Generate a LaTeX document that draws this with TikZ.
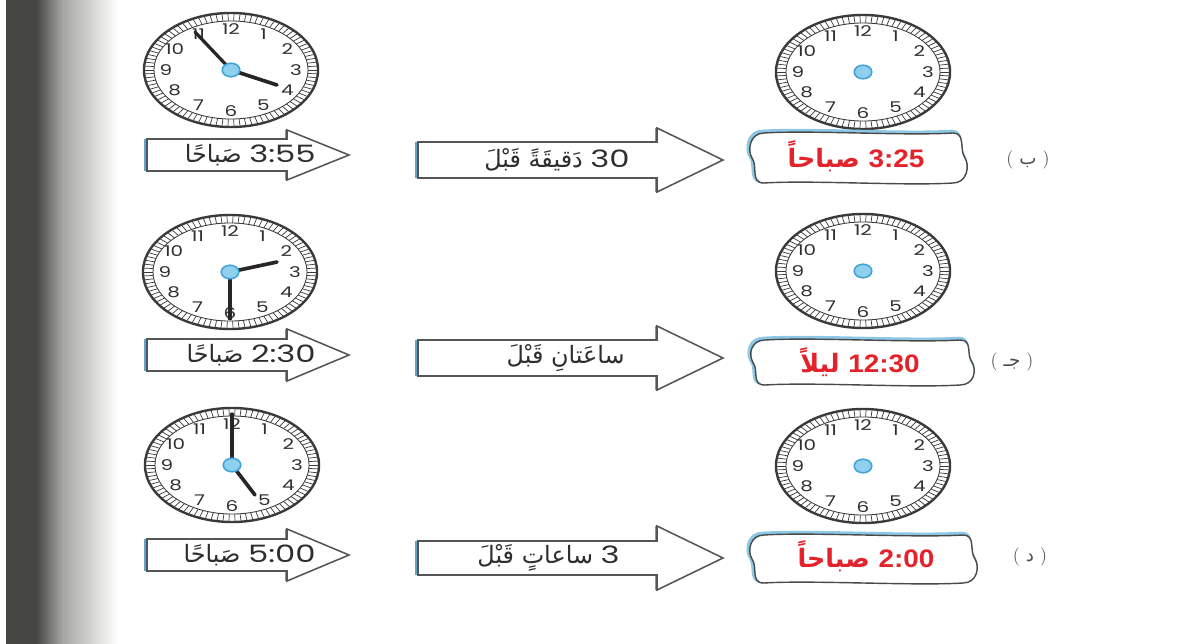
\documentclass[tikz,border=0pt]{standalone}
\usepackage{fontspec}
\usetikzlibrary{shapes.geometric,calc}
\TeXXeTstate=1
\newfontfamily\arb[Script=Arabic]{DejaVu Sans}
\newfontfamily\digf[FakeStretch=1.35]{Poppins}
\newfontfamily\redlat[FakeStretch=1.1]{Liberation Sans}
\definecolor{bgdark}{HTML}{464742}
\definecolor{bgmid}{HTML}{A4A5A0}
\definecolor{clockgray}{HTML}{3A3A3A}
\definecolor{arrline}{HTML}{555555}
\definecolor{accblue}{HTML}{5AA6CF}
\definecolor{boxblue}{HTML}{8CC8E6}
\definecolor{boxline}{HTML}{4A4A4A}
\definecolor{redtxt}{HTML}{E3222B}
\definecolor{hubfill}{HTML}{8FD0EE}
\definecolor{hubedge}{HTML}{3FA3D6}
\definecolor{inkgray}{HTML}{2E2E2E}
\tikzset{
 clockrim/.style={ellipse, draw=clockgray, line width=1.7pt, fill=white, minimum width=4.35cm, minimum height=2.85cm, inner sep=0pt},
 clockinner/.style={ellipse, draw=clockgray, line width=0.6pt, minimum width=3.85cm, minimum height=2.45cm, inner sep=0pt},
 clocktick/.style={draw=clockgray, line width=0.5pt},
 clocknum/.style={text=inkgray, font=\digf\fontsize{10.5}{11}\selectfont, inner sep=0pt},
 hub/.style={ellipse, fill=hubfill, draw=hubedge, line width=1.1pt, minimum width=0.44cm, minimum height=0.34cm, inner sep=0pt},
 minhand/.style={draw=black!85, line width=2.3pt, line cap=round},
 hourhand/.style={draw=black!85, line width=2.6pt, line cap=round},
 arrowfill/.style={fill=white},
 arrowedge/.style={draw=arrline, line width=1.1pt, line join=miter},
 arrowaccent/.style={draw=accblue, line width=2.4pt},
 blacktxt/.style={text=inkgray, font=\fontsize{17}{20}\selectfont, inner sep=0pt},
 redlabel/.style={text=redtxt, font=\bfseries\fontsize{18}{22}\selectfont, inner sep=0pt},
 rowlabel/.style={text=inkgray!85, font=\fontsize{13}{15}\selectfont, inner sep=0pt},
 boxglow/.style={draw=boxblue, line width=2.6pt},
 boxedge/.style={draw=boxline, line width=1pt, fill=white},
}
\newcommand\drawclock[3]{%
 \begin{scope}[shift={(#2,#3)}]
 \node[clockrim] (#1) at (0,0) {};
 \node[clockinner] (#1-in) at (0,0) {};
 \foreach \a in {0,4,...,356}{\draw[clocktick] ({86*cos(\a)},{56*sin(\a)}) -- ({77*cos(\a)},{49*sin(\a)});}
 \foreach \n in {1,...,12}{\node[clocknum] (#1-n\n) at ({65*sin(30*\n)},{-41*cos(30*\n)}) {\n};}
 \end{scope}}
\newcommand\drawhub[1]{\node[hub] (#1-hub) at (#1) {};}
\newcommand\bigarrow[6]{%
 \path[arrowfill] (#1,{#4-#5}) -- (#2,{#4-#5}) -- (#2,{#4-#6}) -- (#3,#4) -- (#2,{#4+#6}) -- (#2,{#4+#5}) -- (#1,{#4+#5}) -- cycle;
 \draw[arrowaccent] ({#1-1},{#4-#5}) -- ({#1-1},{#4+#5});
 \draw[arrowaccent, line width=1.6pt] ({#2-1},{#4-#6}) -- ({#2-1},{#4-#5}) ({#2-1},{#4+#5}) -- ({#2-1},{#4+#6});
 \draw[arrowedge] (#1,{#4-#5}) -- (#2,{#4-#5}) -- (#2,{#4-#6}) -- (#3,#4) -- (#2,{#4+#6}) -- (#2,{#4+#5}) -- (#1,{#4+#5}) -- cycle;}
\newcommand\ansbox[4]{%
 \begin{scope}[shift={(#1,#2)}]
 \draw[boxglow, shift={(-1.5,-1.5)}] (12,0) .. controls (60,-3) and ({#3-60},3) .. ({#3-12},0) .. controls ({#3+1},0) and ({#3-6},{#4/2-8}) .. (#3,{#4/2}) .. controls ({#3+5},{#4/2+8}) and ({#3+2},#4) .. ({#3-12},#4) .. controls ({#3-60},{#4+3}) and (60,{#4-3}) .. (12,#4) .. controls (-2,#4) and (6,{#4/2+8}) .. (0,{#4/2}) .. controls (-5,{#4/2-8}) and (-2,0) .. (12,0) -- cycle;
 \draw[boxedge] (12,0) .. controls (60,-3) and ({#3-60},3) .. ({#3-12},0) .. controls ({#3+1},0) and ({#3-6},{#4/2-8}) .. (#3,{#4/2}) .. controls ({#3+5},{#4/2+8}) and ({#3+2},#4) .. ({#3-12},#4) .. controls ({#3-60},{#4+3}) and (60,{#4-3}) .. (12,#4) .. controls (-2,#4) and (6,{#4/2+8}) .. (0,{#4/2}) .. controls (-5,{#4/2-8}) and (-2,0) .. (12,0) -- cycle;
 \end{scope}}
\begin{document}
\begin{tikzpicture}[x=0.025cm, y=-0.025cm]
\useasboundingbox (0,0) rectangle (1184,644);
\fill[white] (0,0) rectangle (1184,644);
\fill[bgdark] (6,0) rectangle (36,644);
\shade[left color=bgdark, right color=bgmid] (36,0) rectangle (62,644);
\shade[left color=bgmid, right color=white] (62,0) rectangle (118,644);

% clocks
\drawclock{L1}{231}{70}
\drawclock{L2}{230}{272}
\drawclock{L3}{232}{465}
\drawclock{R1}{863}{72}
\drawclock{R2}{863}{271}
\drawclock{R3}{863}{466}

% hands
\draw[minhand] (L1.center) -- ++(-36,-38);
\draw[hourhand] (L1.center) -- ++(46,15);
\draw[hourhand] (L2.center) -- ++(47,-10);
\draw[minhand] (L2.center) ++(0,6) -- ++(0,40);
\fill[black!85] ($(L2.center)+(0,46)$) circle [radius=0.06cm];
\draw[minhand] (L3.center) -- ++(0,-51);
\draw[hourhand] (L3.center) -- ++(23,30);
\drawhub{L1}\drawhub{L2}\drawhub{L3}\drawhub{R1}\drawhub{R2}\drawhub{R3}

% arrows
\bigarrow{147}{287}{349}{155}{16}{25}
\bigarrow{147}{287}{349}{355}{16}{26}
\bigarrow{147}{287}{349}{555}{16}{26}
\bigarrow{418}{657}{723}{160}{18}{32}
\bigarrow{418}{657}{723}{358}{18}{32}
\bigarrow{418}{657}{723}{558}{17}{32}

\node[blacktxt, anchor=east] (lt1) at (316,155) {\arb\beginR\beginL{\digf 3:55}\endL{} صَباحًا\endR};
\node[blacktxt, anchor=east] (lt2) at (316,355) {\arb\beginR\beginL{\digf 2:30}\endL{} صَباحًا\endR};
\node[blacktxt, anchor=east] (lt3) at (316,555) {\arb\beginR\beginL{\digf 5:00}\endL{} صَباحًا\endR};
\node[blacktxt, anchor=east] (mt1) at (630,160) {\arb\beginR\beginL{\digf 30}\endL{} دَقيقَةً قَبْلَ\endR};
\node[blacktxt, anchor=east] (mt2) at (625,358) {\arb\beginR ساعَتانِ قَبْلَ\endR};
\node[blacktxt, anchor=east] (mt3) at (620,558) {\arb\beginR\beginL{\digf 3}\endL{} ساعاتٍ قَبْلَ\endR};

% answer boxes
\ansbox{752}{133}{213}{50}
\ansbox{753}{340}{219}{45}
\ansbox{752}{535}{223}{48}
\node[redlabel] (a1) at (856,156) {\arb\beginR\beginL{\redlat\bfseries 3:25}\endL{} صباحاً\endR};
\node[redlabel] (a2) at (860,362) {\arb\beginR\beginL{\redlat\bfseries 12:30}\endL{} ليلاً\endR};
\node[redlabel] (a3) at (866,556) {\arb\beginR\beginL{\redlat\bfseries 2:00}\endL{} صباحاً\endR};

% row labels
\node[rowlabel] (lb1) at (1028,160) {(\,\,{\arb ب}\,\,)};
\node[rowlabel] (lb2) at (1012,362) {(\,\,{\arb جـ}\,\,)};
\node[rowlabel] (lb3) at (1030,557) {(\,\,{\arb د}\,\,)};
\end{tikzpicture}
\end{document}
